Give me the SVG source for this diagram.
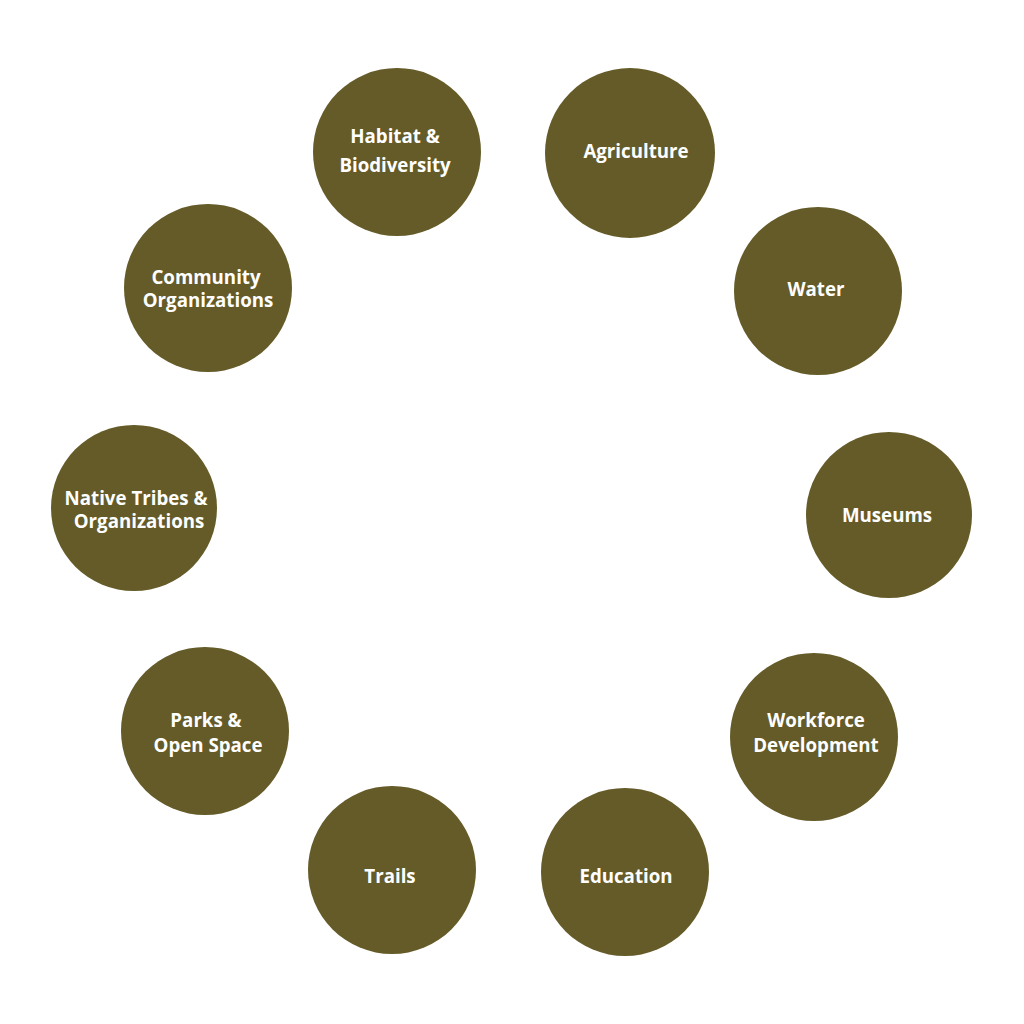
<svg xmlns="http://www.w3.org/2000/svg" width="1024" height="1024" viewBox="0 0 1024 1024">
<style>
.n{fill:#645b28}
.t{fill:#ffffff;font-family:"Open Sans","Liberation Sans",sans-serif;font-weight:700;font-size:18.7px;text-anchor:middle}
</style>
<rect width="1024" height="1024" fill="#ffffff"/>
<g id="connectors"></g>
<g id="habitat"><circle class="n" cx="397" cy="152" r="84"/><text class="t" x="395" y="143">Habitat &amp;</text><text class="t" x="395" y="172">Biodiversity</text></g>
<g id="agriculture"><circle class="n" cx="630" cy="153" r="85"/><text class="t" x="636" y="158">Agriculture</text></g>
<g id="water"><circle class="n" cx="818" cy="291" r="84"/><text class="t" x="816" y="296">Water</text></g>
<g id="museums"><circle class="n" cx="889" cy="515" r="83"/><text class="t" x="887" y="522">Museums</text></g>
<g id="workforce"><circle class="n" cx="814" cy="737" r="84"/><text class="t" x="816" y="727">Workforce</text><text class="t" x="816" y="752">Development</text></g>
<g id="education"><circle class="n" cx="625" cy="872" r="84"/><text class="t" x="626" y="883">Education</text></g>
<g id="trails"><circle class="n" cx="392" cy="870" r="84"/><text class="t" x="390" y="883">Trails</text></g>
<g id="parks"><circle class="n" cx="205" cy="731" r="84"/><text class="t" x="206" y="727">Parks &amp;</text><text class="t" x="208" y="752">Open Space</text></g>
<g id="native"><circle class="n" cx="134" cy="508" r="83"/><text class="t" x="136" y="505">Native Tribes &amp;</text><text class="t" x="139" y="528">Organizations</text></g>
<g id="community"><circle class="n" cx="208" cy="288" r="84"/><text class="t" x="206" y="284">Community</text><text class="t" x="208" y="307">Organizations</text></g>
</svg>
